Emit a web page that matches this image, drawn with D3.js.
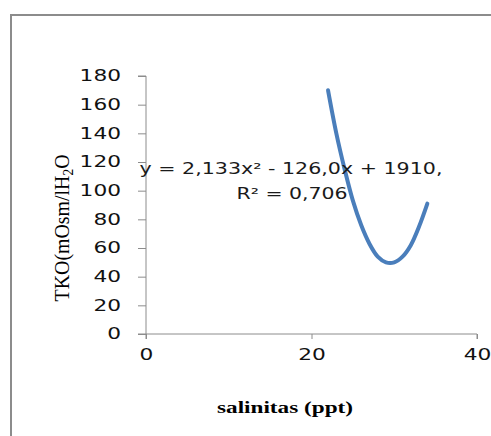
<!DOCTYPE html>
<html><head><meta charset="utf-8">
<script src="https://cdn.jsdelivr.net/npm/d3@7"></script>
<style>body{margin:0;background:#fff;}svg{display:block;}</style>
</head><body>
<svg id="c" width="491" height="436"></svg>
<script>
const xTicks = [0, 20, 40];
const yTicks = [0, 20, 40, 60, 80, 100, 120, 140, 160, 180];
const salinity = [22, 23, 24, 25, 26, 27, 28, 29, 30, 31, 32, 33, 34];
const tko = [170, 140, 115, 93, 76, 63, 54, 50, 50, 54, 62, 75, 91];
const eqLine1 = "y = 2,133x² - 126,0x + 1910,";
const eqLine2 = "R² = 0,706";
const xTitle = "salinitas (ppt)";

const svg = d3.select("#c");
svg.append("path").attr("d","M11,436 V15 H491").attr("fill","none").attr("stroke","#8c8c8c").attr("stroke-width",2);

const x = d3.scaleLinear().domain([0,40]).range([146,477]);
const y = d3.scaleLinear().domain([0,180]).range([334,76]);

const gx = svg.append("g").attr("transform","translate(0,334)")
  .call(d3.axisBottom(x).tickValues(xTicks).tickSize(5).tickPadding(10).tickFormat(d3.format("d")));
const gy = svg.append("g").attr("transform","translate(146,0)")
  .call(d3.axisLeft(y).tickValues(yTicks).tickSize(8).tickPadding(17).tickFormat(d3.format("d")));
[gx,gy].forEach(g=>{
  g.selectAll("path,line").attr("stroke","#8c8c8c");
  g.selectAll("text").attr("font-family","DejaVu Sans").attr("font-size",15).attr("fill","#111")
    .attr("textLength", function(){ return this.textContent.length*13.8; })
    .attr("lengthAdjust","spacingAndGlyphs");
});
gx.select(".domain").attr("d","M146,5V0H477V5");
gy.select(".domain").attr("d","M-8,76H0V334H-8");

svg.append("path").datum(salinity.map((s,i)=>[s,tko[i]]))
  .attr("d", d3.line().x(d=>x(d[0])).y(d=>y(d[1])).curve(d3.curveCatmullRom))
  .attr("fill","none").attr("stroke","#4a7ebb").attr("stroke-width",4).attr("stroke-linecap","round");

const eq = svg.append("text").attr("font-family","DejaVu Sans").attr("font-size",15).attr("text-anchor","middle").attr("fill","#1a1a1a");
eq.append("tspan").attr("x",291).attr("y",174).attr("textLength",303).attr("lengthAdjust","spacingAndGlyphs").text(eqLine1);
eq.append("tspan").attr("x",292).attr("y",199).attr("textLength",111).attr("lengthAdjust","spacingAndGlyphs").text(eqLine2);

svg.append("text").attr("x",285).attr("y",413).attr("text-anchor","middle")
  .attr("font-family","Liberation Serif").attr("font-weight","bold").attr("font-size",17)
  .attr("textLength",136).attr("lengthAdjust","spacingAndGlyphs").text(xTitle);

const yl = svg.append("text").attr("transform","translate(69,228) rotate(-90)").attr("text-anchor","middle")
  .attr("font-family","Liberation Serif").attr("font-size",21)
  .attr("textLength",147).attr("lengthAdjust","spacingAndGlyphs");
yl.append("tspan").text("TKO(mOsm/lH");
yl.append("tspan").attr("font-size",14).attr("dy",4).text("2");
yl.append("tspan").attr("dy",-4).text("O");
</script>
</body></html>
